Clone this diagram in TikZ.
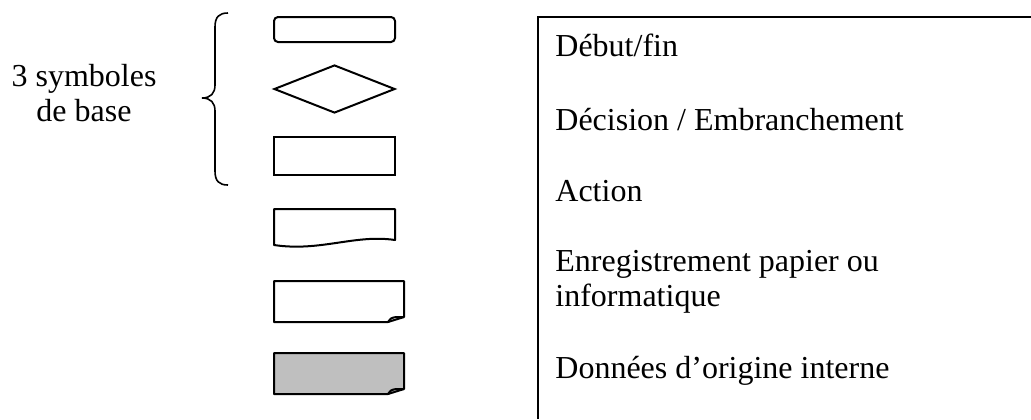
\documentclass[tikz,border=0pt]{standalone}
\usepackage{fontspec}
\setmainfont{Liberation Serif}[Ligatures=NoCommon]
\usetikzlibrary{shapes.geometric, positioning}

\begin{document}
\begin{tikzpicture}[
            x=0.5pt, y=-0.5pt,
            font=\fontsize{16}{17.5}\selectfont,
            sym/.style={draw, line width=1pt, inner sep=0pt, minimum width=60.5pt},
            startstop/.style={sym, rectangle, rounded corners=2pt, minimum height=12.5pt},
            decision/.style={sym, diamond, minimum height=24pt},
            action/.style={sym, rectangle, minimum height=19pt},
            outline/.style={draw, line width=1pt, line join=round},
            legend/.style={anchor=base west, inner sep=0pt, align=left}
        ]
            \useasboundingbox (0,0) rectangle (1031,419);

            % Brace
            \draw [line width=0.8pt] (228,13) .. controls (219,13) and (215,17) .. (215,27) -- (215,85)
                .. controls (215,93) and (211,98) .. (202,98)
                .. controls (211,98) and (215,103) .. (215,111) -- (215,171)
                .. controls (215,181) and (219,185) .. (228,185);
            \node [align=center, inner sep=0pt] (base) at (84,93) {3 symboles\\ de base};

            % Symbols
            \node [startstop] (debut) at (334.5,29.5) {};
            \node [decision] (decision) at (334.5,89) {};
            \node [action] (action) at (334.5,156) {};
            \draw [outline] (274,245) -- (274,209) -- (395,209) -- (395,240)
                .. controls (355,234) and (320,252) .. cycle;
            \draw [outline] (274,281) -- (404,281) -- (404,317) -- (388,322) -- (274,322) -- cycle;
            \draw [outline] (388,322) .. controls (391,318) .. (396,317) -- (404,317);
            \draw [outline, fill=black!25] (274,353) -- (404,353) -- (404,389) -- (388,394) -- (274,394) -- cycle;
            \draw [outline] (388,394) .. controls (391,390) .. (396,389) -- (404,389);

            % Legend box
            \draw [line width=1pt] (538,419) -- (538,17) -- (1031,17);
            \node [legend] (tdebut) at (555,56) {Début/fin};
            \node [legend] (tdecision) at (555,130) {Décision / Embranchement};
            \node [legend] (taction) at (555,201) {Action};
            \node [legend] (tenreg) at (555,306) {Enregistrement papier ou\\informatique};
            \node [legend] (tdonnees) at (555,378) {Données d’origine interne};
        \end{tikzpicture}
\end{document}
